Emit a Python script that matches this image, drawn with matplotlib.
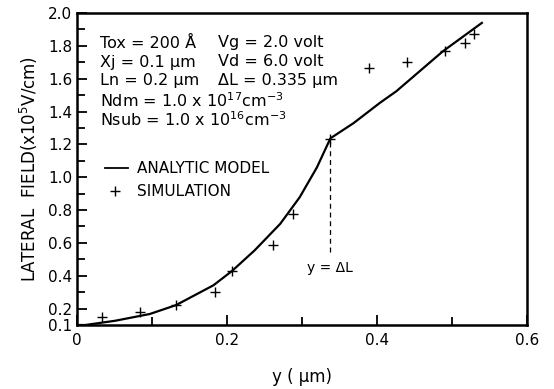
import matplotlib
matplotlib.use('Agg')
import matplotlib.pyplot as plt
from matplotlib.ticker import MultipleLocator, FixedLocator

# analytic model curve
model_y_pos = [0.0, 0.011, 0.051, 0.097, 0.132, 0.182, 0.207, 0.237, 0.271, 0.297,
               0.320, 0.338, 0.369, 0.404, 0.426, 0.488, 0.540]
model_field = [0.10, 0.10, 0.126, 0.167, 0.221, 0.342, 0.43, 0.555, 0.716, 0.878,
               1.06, 1.237, 1.33, 1.453, 1.524, 1.767, 1.94]

# simulation points
sim_y_pos = [0.033, 0.084, 0.132, 0.184, 0.207, 0.261, 0.288, 0.337, 0.390, 0.440, 0.491, 0.517, 0.529]
sim_field = [0.15, 0.18, 0.221, 0.30, 0.43, 0.59, 0.777, 1.235, 1.666, 1.70, 1.77, 1.82, 1.87]

delta_l = 0.338
delta_l_field = 1.237

y_ticks = [0.1, 0.2, 0.4, 0.6, 0.8, 1.0, 1.2, 1.4, 1.6, 1.8, 2.0]
y_tick_labels = ['0.1', '0.2', '0.4', '0.6', '0.8', '1.0', '1.2', '1.4', '1.6', '1.8', '2.0']
x_ticks = [0, 0.2, 0.4, 0.6]
x_tick_labels = ['0', '0.2', '0.4', '0.6']

plt.rcParams.update({'font.family': ['DejaVu Sans'], 'font.size': 10})

fig = plt.figure(figsize=(5.54, 3.89), dpi=100)
ax = fig.add_axes([0.139, 0.1645, 0.812, 0.802])

ax.plot(model_y_pos, model_field, color='black', lw=1.6)
ax.plot(sim_y_pos, sim_field, linestyle='none', marker='+', color='black', markersize=7, mew=1.0)
ax.plot([delta_l, delta_l], [0.545, delta_l_field], color='black', lw=0.9, linestyle=(0, (4, 3)))
ax.text(delta_l, 0.45, 'y = ΔL', ha='center', va='center', fontsize=10)

ax.set_xlim(0, 0.6)
ax.set_ylim(0.1, 2.0)
ax.yaxis.set_major_locator(FixedLocator(y_ticks))
ax.set_yticklabels(y_tick_labels)
ax.yaxis.set_minor_locator(MultipleLocator(0.1))
ax.xaxis.set_major_locator(FixedLocator(x_ticks))
ax.set_xticklabels(x_tick_labels)
ax.xaxis.set_minor_locator(MultipleLocator(0.1))
ax.tick_params(axis='both', which='both', direction='in', top=False, right=False,
               width=1.3, labelsize=11)
ax.tick_params(axis='both', which='major', length=7)
ax.tick_params(axis='both', which='minor', length=6)
ax.tick_params(axis='x', pad=6)
for s in ax.spines.values():
    s.set_linewidth(1.8)

ax.set_ylabel('LATERAL  FIELD(x10$^5$V/cm)', fontsize=12, labelpad=6)
ax.set_xlabel('y ( μm)', fontsize=12, labelpad=14)

# parameter block
rows = [('Tox = 200 Å', 'Vg = 2.0 volt'),
        ('Xj = 0.1 μm', 'Vd = 6.0 volt'),
        ('Ln = 0.2 μm', 'ΔL = 0.335 μm')]
row_y = [43, 62, 81]
for (a, b), py in zip(rows, row_y):
    fig.text(100 / 554, 1 - py / 389, a, ha='left', va='center', fontsize=11.5)
    fig.text(218 / 554, 1 - py / 389, b, ha='left', va='center', fontsize=11.5)
fig.text(100 / 554, 1 - 101 / 389, 'Ndm = 1.0 x 10$^{17}$cm$^{-3}$', ha='left', va='center', fontsize=11.5)
fig.text(100 / 554, 1 - 120 / 389, 'Nsub = 1.0 x 10$^{16}$cm$^{-3}$', ha='left', va='center', fontsize=11.5)

# legend drawn by hand
fig.add_artist(plt.Line2D([105 / 554, 128 / 554], [1 - 168 / 389, 1 - 168 / 389], color='black', lw=1.3))
fig.text(137 / 554, 1 - 168 / 389, 'ANALYTIC MODEL', ha='left', va='center', fontsize=11)
fig.add_artist(plt.Line2D([115 / 554], [1 - 191 / 389], marker='+', color='black', markersize=7, mew=1.0))
fig.text(137 / 554, 1 - 191 / 389, 'SIMULATION', ha='left', va='center', fontsize=11)

fig.savefig('out.png', dpi=100)
